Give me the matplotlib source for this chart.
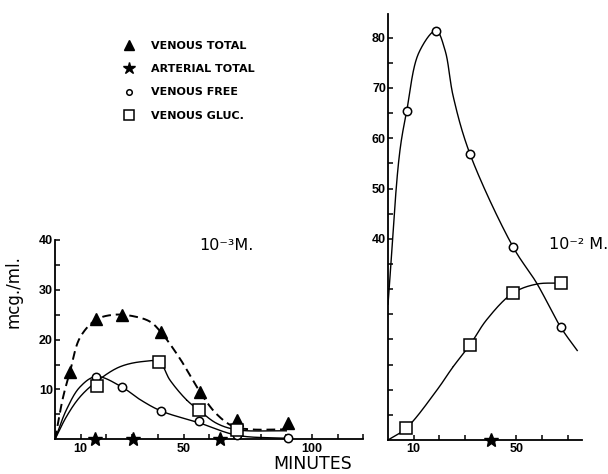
import numpy as np
import matplotlib
matplotlib.use("Agg")
import matplotlib.pyplot as plt
from matplotlib.lines import Line2D

# --- 10^-3 M run (left panel) ---
lo_total_t = [5.8, 16.0, 26.0, 41.2, 56.4, 70.8, 90.7]
lo_total_v = [13.5, 24.2, 24.9, 21.5, 9.5, 3.8, 3.2]
lo_free_t = [16.0, 26.0, 41.2, 56.1, 70.9, 90.8]
lo_free_v = [12.6, 10.5, 5.7, 3.6, 0.8, 0.2]
lo_gluc_t = [16.2, 40.6, 56.1, 70.9]
lo_gluc_v = [10.7, 15.5, 5.8, 1.8]
lo_art_t = [15.6, 30.2, 64.2]
lo_art_v = [0, 0, 0]

# hand-fitted curves through the points
lo_total_fit_t = [0, 3.2, 5.8, 9.7, 16.0, 23.0, 30.5, 37.0, 41.2, 48.6, 56.4, 62.8, 69.3, 76.0, 90.0]
lo_total_fit_v = [0, 8.6, 13.5, 20.4, 24.0, 25.0, 24.7, 23.6, 21.5, 16.2, 9.5, 5.1, 2.6, 2.0, 2.0]
lo_free_fit_t = [0, 4.5, 9.7, 16.0, 26.0, 33.0, 41.2, 56.1, 70.9, 90.8]
lo_free_fit_v = [0, 6.0, 10.5, 12.6, 10.5, 8.0, 5.7, 3.3, 0.8, 0.2]
lo_gluc_fit_t = [0, 4.5, 9.7, 16.2, 25.0, 34.0, 40.6, 44.7, 51.2, 56.1, 62.9, 70.9, 90.0]
lo_gluc_fit_v = [0, 4.6, 8.5, 11.6, 14.5, 15.6, 15.5, 11.9, 7.9, 5.8, 3.2, 1.9, 1.7]

# --- 10^-2 M run (right panel) ---
hi_free_t = [7.3, 18.7, 31.9, 48.8, 67.3]
hi_free_v = [65.5, 81.4, 56.9, 38.3, 22.4]
hi_gluc_t = [7.0, 31.9, 48.6, 67.3]
hi_gluc_v = [2.3, 18.9, 29.2, 31.2]
hi_art_t = [40.0]
hi_art_v = [0]

hi_free_fit_t = [0, 4.5, 7.3, 12.0, 18.7, 22.2, 25.4, 31.9, 48.8, 57.9, 67.3, 73.7]
hi_free_fit_v = [27, 57, 65.5, 77.0, 81.4, 77.5, 68.3, 56.9, 38.3, 31.2, 22.4, 17.8]
hi_gluc_fit_t = [0, 7.0, 19.0, 25.4, 31.9, 38.4, 48.6, 57.9, 67.3]
hi_gluc_fit_v = [0, 2.3, 9.9, 14.6, 18.9, 23.9, 29.2, 31.0, 31.2]

legend_labels = ["VENOUS TOTAL", "ARTERIAL TOTAL", "VENOUS FREE", "VENOUS GLUC."]

TICK_FONT = dict(family=["Liberation Sans Narrow", "Liberation Sans"], weight="bold", size=9)


def smooth(t, v, sx, sy, n=40):
    """Centripetal Catmull-Rom curve through the knots (scaled to screen units)."""
    P = np.column_stack([np.asarray(t, float) * sx, np.asarray(v, float) * sy])
    P = np.vstack([2 * P[0] - P[1], P, 2 * P[-1] - P[-2]])
    pieces = []
    for k in range(1, len(P) - 2):
        p0, p1, p2, p3 = P[k - 1:k + 3]
        t0 = 0.0
        t1 = t0 + np.linalg.norm(p1 - p0) ** 0.5
        t2 = t1 + np.linalg.norm(p2 - p1) ** 0.5
        t3 = t2 + np.linalg.norm(p3 - p2) ** 0.5
        tt = np.linspace(t1, t2, n)[:, None]
        a1 = (t1 - tt) / (t1 - t0) * p0 + (tt - t0) / (t1 - t0) * p1
        a2 = (t2 - tt) / (t2 - t1) * p1 + (tt - t1) / (t2 - t1) * p2
        a3 = (t3 - tt) / (t3 - t2) * p2 + (tt - t2) / (t3 - t2) * p3
        b1 = (t2 - tt) / (t2 - t0) * a1 + (tt - t0) / (t2 - t0) * a2
        b2 = (t3 - tt) / (t3 - t1) * a2 + (tt - t1) / (t3 - t1) * a3
        pieces.append((t2 - tt) / (t2 - t1) * b1 + (tt - t1) / (t2 - t1) * b2)
    C = np.vstack(pieces)
    return C[:, 0] / sx, C[:, 1] / sy


def style_axes(ax):
    for side in ("top", "right"):
        ax.spines[side].set_visible(False)
    for side in ("left", "bottom"):
        ax.spines[side].set_linewidth(1.3)
    ax.tick_params(which="both", direction="in", width=1.1, length=3.5)
    ax.tick_params(axis="y", pad=1.5)
    ax.tick_params(axis="x", pad=2.5)
    for lab in ax.get_xticklabels() + ax.get_yticklabels():
        lab.set(**TICK_FONT)


fig = plt.figure(figsize=(6.08, 4.74), dpi=100)

line_kw = dict(color="black", lw=1.0, zorder=2)
open_kw = dict(ls="none", color="black", mfc="white", mew=1.1, zorder=4, clip_on=False)

# left panel: 10^-3 M
ax1 = fig.add_axes([0.0905, 0.0732, 0.5072, 0.4205])
ax1.set_xlim(0, 120)
ax1.set_ylim(0, 40)
sx1, sy1 = 2.57, 4.98
ax1.plot(*smooth(lo_total_fit_t, lo_total_fit_v, sx1, sy1), color="black", lw=1.4,
         ls=(0, (4.5, 2.5)), zorder=2)
ax1.plot(*smooth(lo_free_fit_t, lo_free_fit_v, sx1, sy1), **line_kw)
ax1.plot(*smooth(lo_gluc_fit_t, lo_gluc_fit_v, sx1, sy1), **line_kw)
ax1.plot(lo_total_t, lo_total_v, ls="none", marker="^", ms=8.5, color="black", zorder=4, clip_on=False)
ax1.plot(lo_free_t, lo_free_v, marker="o", ms=6, **open_kw)
ax1.plot(lo_gluc_t, lo_gluc_v, marker="s", ms=8, **open_kw)
ax1.plot(lo_art_t, lo_art_v, ls="none", marker="*", ms=10, color="black", zorder=5, clip_on=False)

ax1.set_yticks([5, 10, 15, 20, 25, 30, 35, 40])
ax1.set_yticklabels(["", "10", "", "20", "", "30", "", "40"])
ax1.set_xticks(np.arange(10, 121, 10))
ax1.set_xticklabels(["10", "", "", "", "50", "", "", "", "", "100", "", ""])
style_axes(ax1)

# right panel: 10^-2 M
ax2 = fig.add_axes([0.6382, 0.0717, 0.3188, 0.8998])
ax2.set_xlim(0, 75.5)
ax2.set_ylim(0, 84.8)
sx2, sy2 = 2.567, 5.03
ax2.plot(*smooth(hi_free_fit_t, hi_free_fit_v, sx2, sy2), **line_kw)
ax2.plot(*smooth(hi_gluc_fit_t, hi_gluc_fit_v, sx2, sy2), **line_kw)
ax2.plot(hi_free_t, hi_free_v, marker="o", ms=6, **open_kw)
ax2.plot(hi_gluc_t, hi_gluc_v, marker="s", ms=8, **open_kw)
ax2.plot(hi_art_t, hi_art_v, ls="none", marker="*", ms=10, color="black", zorder=5, clip_on=False)

ax2.set_yticks(np.arange(5, 85, 5))
ax2.set_yticklabels(["" if (y < 40 or y % 10) else str(y) for y in range(5, 85, 5)])
ax2.set_xticks(np.arange(10, 71, 10))
ax2.set_xticklabels(["10", "", "", "", "50", "", ""])
style_axes(ax2)

# annotations
fig.text(0.023, 0.384, "mcg./ml.", rotation=90, ha="center", va="center", fontsize=12)
fig.text(0.515, 0.022, "MINUTES", ha="center", va="center", fontsize=12.5)
fig.text(0.3725, 0.483, "10⁻³M.", ha="center", va="center", fontsize=11.5)
fig.text(0.952, 0.485, "10⁻² M.", ha="center", va="center", fontsize=11.5)

handles = [
    Line2D([], [], ls="none", marker="^", ms=7, color="black"),
    Line2D([], [], ls="none", marker="*", ms=9, color="black"),
    Line2D([], [], ls="none", marker="o", ms=4, color="black", mfc="white", mew=1.1),
    Line2D([], [], ls="none", marker="s", ms=6.5, color="black", mfc="white", mew=1.1),
]
fig.legend(handles, legend_labels, loc="upper left", bbox_to_anchor=(0.186, 0.935),
           frameon=False, handlelength=1.0, handletextpad=1.5, labelspacing=1.2,
           borderpad=0.4, prop=dict(family=["DejaVu Sans"], weight="bold", size=8))

fig.savefig("out.png", dpi=100)
